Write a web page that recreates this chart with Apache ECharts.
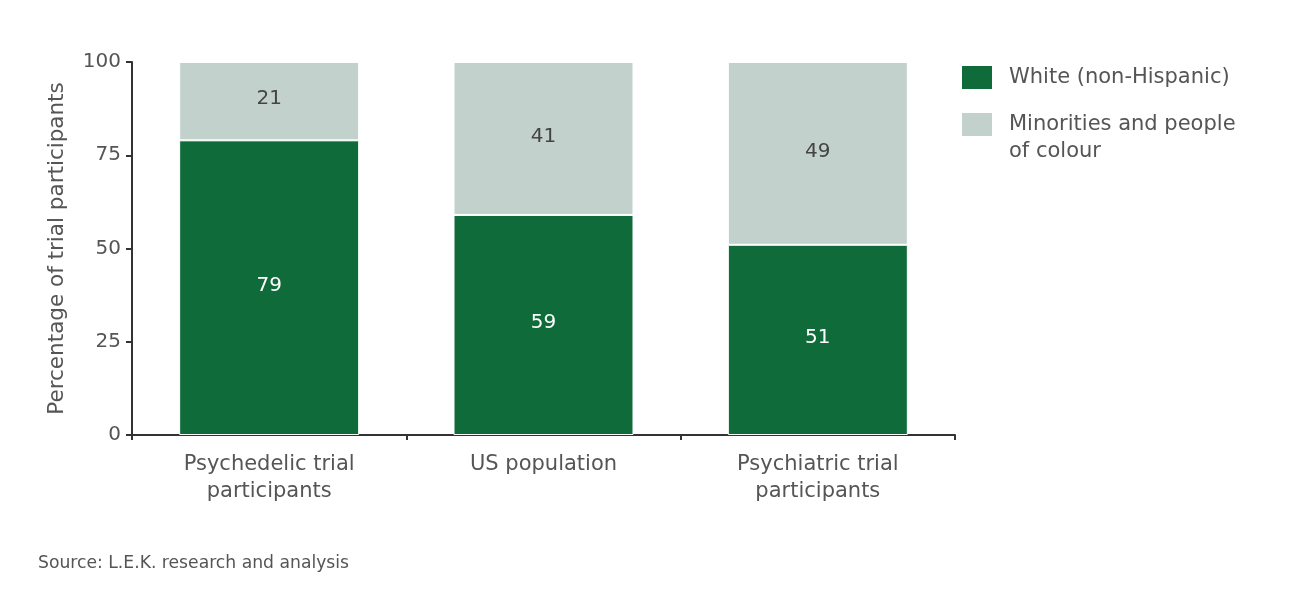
<!DOCTYPE html>
<html>
<head>
<meta charset="utf-8">
<script src="https://cdn.jsdelivr.net/npm/echarts@6/dist/echarts.min.js"></script>
<style>
html,body{margin:0;padding:0;background:#fff;}
#chart{width:1300px;height:594px;}
</style>
</head>
<body>
<div id="chart"></div>
<script>
const categories = ['Psychedelic trial\nparticipants', 'US population', 'Psychiatric trial\nparticipants'];
const whiteNonHispanic = [79, 59, 51];
const minorities = [21, 41, 49];
const yTicks = [0, 25, 50, 75, 100];
const seriesNames = ['White (non-Hispanic)', 'Minorities and people\nof colour'];

const FONT = '"DejaVu Sans", sans-serif';
const TXT = '#555';
const chart = echarts.init(document.getElementById('chart'));
chart.setOption({
  backgroundColor: '#fff',
  animation: false,
  grid: {left: 132, right: 345, top: 62, bottom: 159, containLabel: false},
  legend: [
    {
      orient: 'vertical', left: 960, top: 64, padding: 0,
      itemWidth: 32, itemHeight: 25, icon: 'rect',
      textStyle: {fontFamily: FONT, fontSize: 21, color: TXT, lineHeight: 27, padding: [0,0,0,11]},
      data: [seriesNames[0]]
    },
    {
      orient: 'vertical', left: 960, top: 84, padding: 0,
      itemWidth: 32, itemHeight: 25, icon: 'rect',
      formatter: name => '{pad| }\n' + name.split('\n').map(s => '{t|' + s + '}').join('\n'),
      textStyle: {fontFamily: FONT, fontSize: 21, color: TXT, lineHeight: 27, padding: [0,0,0,11],
        rich: {
          pad: {height: 27, lineHeight: 27, fontSize: 10},
          t: {fontFamily: FONT, fontSize: 21, color: TXT, lineHeight: 27}
        }
      },
      data: [seriesNames[1]]
    }
  ],
  xAxis: {
    type: 'category',
    data: categories,
    axisLine: {lineStyle: {color: '#333', width: 2}},
    axisTick: {show: true, length: 5, lineStyle: {color: '#333', width: 2}},
    axisLabel: {fontFamily: FONT, fontSize: 21, color: TXT, lineHeight: 27, margin: 16}
  },
  yAxis: {
    type: 'value', min: 0, max: 100, interval: 25,
    name: 'Percentage of trial participants',
    nameLocation: 'middle', nameGap: 64, nameRotate: 90,
    nameTextStyle: {fontFamily: FONT, fontSize: 21.5, color: TXT},
    axisLine: {show: true, lineStyle: {color: '#333', width: 2}},
    axisTick: {show: true, length: 6, lineStyle: {color: '#333', width: 2}},
    splitLine: {show: false},
    axisLabel: {fontFamily: FONT, fontSize: 20, color: TXT, margin: 11,
      formatter: v => yTicks.includes(v) ? String(v) : ''}
  },
  series: [
    {
      name: seriesNames[0], type: 'bar', stack: 's', barWidth: 180,
      data: whiteNonHispanic,
      itemStyle: {color: '#0f6b3a', borderColor: '#fff', borderWidth: 1},
      label: {show: true, position: 'inside', offset: [0, -2], fontFamily: FONT, fontSize: 20, color: '#fff'}
    },
    {
      name: seriesNames[1], type: 'bar', stack: 's', barWidth: 180,
      data: minorities,
      itemStyle: {color: '#c3d1cc', borderColor: '#fff', borderWidth: 1},
      label: {show: true, position: 'inside', offset: [0, -2], fontFamily: FONT, fontSize: 20, color: '#444'}
    }
  ],
  graphic: [{
    type: 'text', left: 38, top: 555,
    style: {text: 'Source: L.E.K. research and analysis', font: '17.2px ' + FONT, fill: TXT}
  }]
});
</script>
</body>
</html>
